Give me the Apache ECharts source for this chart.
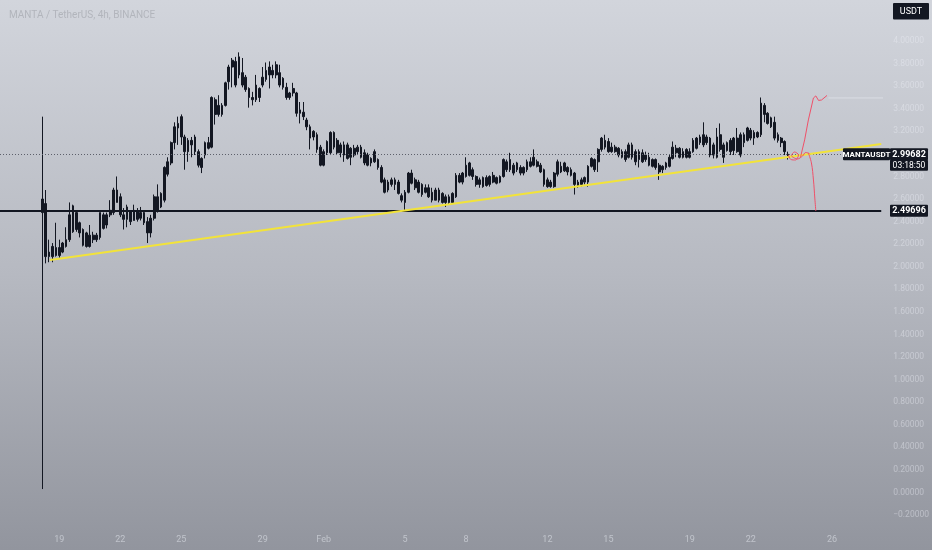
<!DOCTYPE html>
<html>
<head>
<meta charset="utf-8">
<script src="https://cdn.jsdelivr.net/npm/echarts@6/dist/echarts.min.js"></script>
<style>
  html, body { margin: 0; padding: 0; }
  #chart {
    width: 932px;
    height: 550px;
    background: linear-gradient(to bottom, #d2d5dc 0%, #b6b9c1 50%, #92959e 100%);
  }
</style>
</head>
<body>
<div id="chart"></div>
<script>
// MANTA / USDT 4h candles, [open, close, low, high], first candle = Jan 18 04:00
const candles = [
  [2.48, 2.60, 0.03, 3.33], [2.56, 2.09, 2.03, 2.68], [2.09, 2.13, 2.04, 2.24], [2.09, 2.18, 2.04, 2.21],
  [2.17, 2.10, 2.09, 2.39], [2.10, 2.17, 2.08, 2.24], [2.13, 2.21, 2.12, 2.22], [2.18, 2.24, 2.17, 2.35],
  [2.24, 2.46, 2.22, 2.57], [2.31, 2.54, 2.30, 2.55], [2.48, 2.33, 2.31, 2.49], [2.39, 2.30, 2.26, 2.40],
  [2.33, 2.19, 2.18, 2.34], [2.30, 2.18, 2.17, 2.31], [2.18, 2.28, 2.17, 2.37], [2.28, 2.24, 2.21, 2.31],
  [2.24, 2.28, 2.22, 2.30], [2.26, 2.48, 2.24, 2.48], [2.46, 2.34, 2.33, 2.48], [2.37, 2.46, 2.34, 2.48],
  [2.46, 2.50, 2.44, 2.59], [2.48, 2.68, 2.46, 2.70], [2.68, 2.57, 2.57, 2.80], [2.62, 2.46, 2.44, 2.65],
  [2.46, 2.42, 2.33, 2.52], [2.42, 2.53, 2.35, 2.55], [2.49, 2.40, 2.37, 2.50], [2.41, 2.50, 2.41, 2.55],
  [2.49, 2.42, 2.40, 2.52], [2.43, 2.48, 2.41, 2.53], [2.48, 2.39, 2.37, 2.50], [2.40, 2.30, 2.21, 2.44],
  [2.30, 2.43, 2.26, 2.46], [2.43, 2.62, 2.41, 2.64], [2.62, 2.49, 2.48, 2.73], [2.53, 2.65, 2.52, 2.66],
  [2.59, 2.88, 2.57, 2.89], [2.82, 2.93, 2.80, 2.97], [2.92, 3.10, 2.90, 3.11], [3.10, 3.24, 3.04, 3.28],
  [3.23, 3.27, 3.08, 3.33], [3.33, 3.15, 3.08, 3.35], [3.15, 3.02, 2.86, 3.17], [3.02, 3.12, 2.93, 3.14],
  [3.12, 3.08, 2.97, 3.15], [3.15, 3.02, 2.99, 3.17], [3.02, 2.90, 2.88, 3.04], [2.88, 2.96, 2.83, 2.97],
  [2.99, 3.10, 2.96, 3.11], [3.10, 3.05, 3.04, 3.15], [3.06, 3.50, 3.05, 3.51], [3.48, 3.35, 3.26, 3.50],
  [3.35, 3.43, 3.33, 3.52], [3.43, 3.35, 3.33, 3.45], [3.43, 3.63, 3.42, 3.64], [3.64, 3.77, 3.57, 3.79],
  [3.77, 3.83, 3.59, 3.85], [3.82, 3.61, 3.59, 3.86], [3.70, 3.86, 3.67, 3.90], [3.72, 3.61, 3.59, 3.85],
  [3.68, 3.57, 3.55, 3.70], [3.58, 3.50, 3.41, 3.59], [3.50, 3.48, 3.43, 3.55], [3.48, 3.61, 3.46, 3.70],
  [3.58, 3.50, 3.46, 3.59], [3.61, 3.68, 3.59, 3.77], [3.66, 3.74, 3.64, 3.81], [3.77, 3.70, 3.58, 3.82],
  [3.70, 3.74, 3.67, 3.79], [3.70, 3.79, 3.67, 3.82], [3.72, 3.61, 3.59, 3.79], [3.67, 3.59, 3.57, 3.68],
  [3.59, 3.50, 3.48, 3.63], [3.50, 3.54, 3.48, 3.55], [3.54, 3.58, 3.51, 3.63], [3.54, 3.36, 3.33, 3.55],
  [3.36, 3.39, 3.27, 3.46], [3.37, 3.33, 3.30, 3.46], [3.30, 3.24, 3.21, 3.32], [3.24, 3.14, 3.04, 3.26],
  [3.15, 3.20, 3.12, 3.21], [3.17, 3.04, 3.01, 3.19], [3.06, 2.90, 2.89, 3.08], [2.90, 3.02, 2.89, 3.04],
  [3.01, 3.11, 2.99, 3.12], [3.01, 3.19, 2.99, 3.20], [3.19, 3.06, 3.04, 3.20], [3.12, 3.01, 2.99, 3.14],
  [3.01, 3.08, 2.97, 3.10], [3.08, 2.99, 2.93, 3.11], [2.96, 3.08, 2.95, 3.10], [3.05, 2.97, 2.90, 3.06],
  [2.99, 3.05, 2.97, 3.08], [3.06, 3.02, 2.99, 3.08], [3.06, 2.97, 2.96, 3.08], [3.01, 2.92, 2.90, 3.04],
  [2.90, 2.99, 2.89, 3.01], [2.96, 2.92, 2.89, 2.97], [2.93, 3.02, 2.92, 3.04], [2.95, 2.88, 2.86, 2.96],
  [2.88, 2.75, 2.74, 2.90], [2.77, 2.66, 2.65, 2.79], [2.68, 2.75, 2.66, 2.77], [2.73, 2.77, 2.71, 2.79],
  [2.77, 2.73, 2.68, 2.79], [2.75, 2.65, 2.64, 2.77], [2.63, 2.59, 2.57, 2.65], [2.57, 2.66, 2.49, 2.68],
  [2.66, 2.83, 2.65, 2.84], [2.83, 2.74, 2.73, 2.86], [2.77, 2.70, 2.68, 2.79], [2.75, 2.66, 2.65, 2.77],
  [2.73, 2.64, 2.62, 2.74], [2.66, 2.70, 2.65, 2.73], [2.70, 2.62, 2.61, 2.73], [2.66, 2.59, 2.57, 2.70],
  [2.59, 2.68, 2.59, 2.70], [2.68, 2.59, 2.57, 2.70], [2.65, 2.57, 2.56, 2.66], [2.57, 2.62, 2.53, 2.64],
  [2.62, 2.57, 2.55, 2.64], [2.57, 2.65, 2.57, 2.66], [2.62, 2.81, 2.61, 2.83], [2.81, 2.75, 2.74, 2.83],
  [2.75, 2.83, 2.73, 2.84], [2.80, 2.90, 2.79, 2.97], [2.92, 2.81, 2.80, 2.93], [2.86, 2.80, 2.77, 2.88],
  [2.80, 2.73, 2.71, 2.81], [2.73, 2.77, 2.70, 2.79], [2.79, 2.71, 2.70, 2.80], [2.72, 2.79, 2.71, 2.81],
  [2.80, 2.73, 2.71, 2.81], [2.75, 2.81, 2.74, 2.84], [2.79, 2.74, 2.73, 2.80], [2.75, 2.80, 2.74, 2.81],
  [2.80, 2.95, 2.79, 2.96], [2.93, 2.86, 2.84, 2.95], [2.86, 2.95, 2.84, 3.01], [2.90, 2.83, 2.81, 2.92],
  [2.86, 2.92, 2.84, 2.93], [2.88, 2.83, 2.81, 2.90], [2.83, 2.88, 2.81, 2.89], [2.86, 2.93, 2.84, 2.95],
  [2.93, 2.89, 2.88, 2.97], [2.90, 2.97, 2.89, 3.04], [2.93, 2.89, 2.88, 2.95], [2.90, 2.84, 2.83, 2.92],
  [2.86, 2.73, 2.71, 2.87], [2.77, 2.71, 2.70, 2.79], [2.71, 2.75, 2.70, 2.77], [2.71, 2.83, 2.70, 2.84],
  [2.82, 2.93, 2.80, 2.95], [2.89, 2.84, 2.83, 2.93], [2.85, 2.92, 2.84, 2.93], [2.88, 2.84, 2.81, 2.89],
  [2.86, 2.81, 2.80, 2.88], [2.83, 2.73, 2.64, 2.84], [2.71, 2.75, 2.70, 2.77], [2.73, 2.77, 2.71, 2.79],
  [2.75, 2.79, 2.73, 2.80], [2.75, 2.89, 2.71, 2.90], [2.89, 2.96, 2.88, 2.97], [2.95, 2.86, 2.84, 2.96],
  [2.93, 3.04, 2.84, 3.05], [3.04, 3.14, 3.02, 3.15], [3.12, 3.06, 3.04, 3.17], [3.11, 3.02, 3.01, 3.14],
  [3.02, 3.06, 3.01, 3.10], [3.06, 3.02, 3.01, 3.08], [3.05, 2.99, 2.97, 3.06], [3.02, 2.97, 2.96, 3.04],
  [3.02, 2.95, 2.93, 3.04], [2.97, 3.08, 2.96, 3.10], [3.08, 2.97, 2.95, 3.10], [3.02, 2.93, 2.90, 3.04],
  [2.95, 3.02, 2.88, 3.04], [3.01, 2.93, 2.92, 3.04], [2.95, 2.99, 2.93, 3.02], [2.97, 2.90, 2.89, 3.01],
  [2.95, 2.89, 2.88, 2.96], [2.95, 2.88, 2.86, 2.96], [2.90, 2.84, 2.77, 2.92], [2.86, 2.89, 2.83, 2.90],
  [2.88, 2.92, 2.86, 2.93], [2.89, 2.97, 2.88, 2.99], [2.96, 3.06, 2.95, 3.11], [3.05, 3.01, 2.97, 3.08],
  [2.97, 3.05, 2.96, 3.06], [3.02, 2.97, 2.96, 3.05], [2.97, 3.04, 2.96, 3.05], [3.02, 2.97, 2.96, 3.05],
  [3.02, 3.12, 3.01, 3.14], [3.14, 3.05, 3.04, 3.15], [3.10, 3.15, 3.08, 3.17], [3.17, 3.08, 3.06, 3.28],
  [3.10, 3.15, 3.08, 3.17], [3.14, 2.99, 2.97, 3.15], [2.99, 3.08, 2.96, 3.10], [2.97, 3.15, 2.96, 3.23],
  [3.17, 3.04, 3.02, 3.27], [3.08, 2.97, 2.92, 3.10], [3.03, 3.10, 3.02, 3.11], [3.12, 3.02, 2.99, 3.14],
  [3.03, 3.14, 2.99, 3.15], [3.14, 3.02, 3.01, 3.23], [2.99, 3.17, 2.97, 3.19], [3.17, 3.10, 3.06, 3.19],
  [3.12, 3.23, 3.11, 3.24], [3.21, 3.14, 3.12, 3.23], [3.14, 3.19, 3.08, 3.21], [3.19, 3.15, 3.14, 3.20],
  [3.17, 3.45, 3.15, 3.50], [3.43, 3.35, 3.28, 3.45], [3.36, 3.27, 3.26, 3.37], [3.32, 3.24, 3.23, 3.33],
  [3.28, 3.14, 3.12, 3.33], [3.12, 3.17, 3.10, 3.19], [3.14, 3.10, 3.06, 3.15], [3.11, 3.02, 2.99, 3.12],
  [2.97, 2.99682, 2.95, 3.02]
];

// time slots (4h) on the axis, including empty space on the right
const startTime = Date.UTC(2024, 0, 16, 4);
const slotCount = 260;
const firstCandleSlot = 12;

// date ticks shown on the time axis
const tickDates = ['2024-01-19', '2024-01-22', '2024-01-25', '2024-01-29', '2024-02-01', '2024-02-05',
                   '2024-02-08', '2024-02-12', '2024-02-15', '2024-02-19', '2024-02-22', '2024-02-26'];
const tickLabels = ['19', '22', '25', '29', 'Feb', '5', '8', '12', '15', '19', '22', '26'];

// levels
const supportLevel = 2.49696;
const lastPrice = 2.99682;
const countdown = '03:18:50';

// drawings, [slot, price]
const trendLine = [[14.2, 2.06], [259.5, 3.088]];
const redSquiggle = [[232.1, 2.991], [232.8, 2.951], [234.2, 2.946], [235.1, 2.991], [233.9, 3.017],
                     [233.0, 2.986], [234.8, 2.955], [236.3, 2.982], [237.2, 3.013], [238.3, 3.004]];
const redUp = [[235.7, 2.973], [236.9, 3.124], [238.0, 3.301], [239.5, 3.496], [240.2, 3.514],
               [241.0, 3.474], [241.9, 3.478], [243.5, 3.518]];
const redDown = [[238.0, 3.008], [238.9, 2.920], [239.5, 2.769], [239.9, 2.609], [240.2, 2.494]];
const greyRay = [[243.9, 3.496], [262.5, 3.496]];

const pad = n => String(n).padStart(2, '0')
const categories = []
for (let i = 0; i < slotCount; i++) {
  const d = new Date(startTime + i * 4 * 3600 * 1000)
  categories.push(d.getUTCFullYear() + '-' + pad(d.getUTCMonth() + 1) + '-' + pad(d.getUTCDate()) + ' ' + pad(d.getUTCHours()) + ':00')
}
const tickMap = new Map(tickDates.map((d, i) => [d + ' 00:00', tickLabels[i]]))

const font = 'Roboto, "Noto Sans", sans-serif'
const labelColor = 'rgba(238,241,248,0.42)'
const ink = '#131722'

const chart = echarts.init(document.getElementById('chart'), null, { renderer: 'canvas' })

const option = {
  animation: false,
  backgroundColor: 'transparent',
  title: {
    text: 'MANTA / TetherUS, 4h, BINANCE',
    left: 4,
    top: 5,
    textStyle: { fontSize: 10, fontWeight: 'normal', color: '#b2b5bc', fontFamily: font }
  },
  grid: { left: 0, right: 47, top: 18.5, bottom: 35 },
  xAxis: [{
    type: 'category',
    data: categories,
    boundaryGap: true,
    axisLine: { show: false },
    axisTick: { show: false },
    splitLine: { show: false },
    axisLabel: {
      interval: (idx, val) => tickMap.has(val),
      formatter: val => tickMap.get(val) || '',
      margin: 20,
      fontSize: 9,
      color: 'rgba(238,241,248,0.5)',
      fontFamily: font
    }
  }, {
    type: 'value',
    min: -0.5,
    max: slotCount - 0.5,
    show: false
  }],
  yAxis: {
    type: 'value',
    position: 'right',
    min: -0.2,
    max: 4.2,
    interval: 0.2,
    axisLine: { show: false },
    axisTick: { show: false },
    splitLine: { show: false },
    axisLabel: {
      showMaxLabel: false,
      margin: 12,
      fontSize: 8.5,
      color: labelColor,
      fontFamily: font,
      formatter: v => (v < -1e-9 ? '\u2212' + Math.abs(v).toFixed(5) : Math.abs(v).toFixed(5))
    }
  },
  series: [{
    type: 'candlestick',
    xAxisIndex: 0,
    data: candles.map((c, i) => [firstCandleSlot + i, c[0], c[1], c[2], c[3]]),
    encode: { x: 0, y: [1, 2, 3, 4] },
    barWidth: 2.2,
    itemStyle: { color: ink, color0: ink, borderColor: ink, borderColor0: ink, borderWidth: 1 },
    z: 3,
    markLine: {
      silent: true,
      symbol: ['none', 'none'],
      label: { show: false },
      data: [
        { yAxis: supportLevel, lineStyle: { color: ink, width: 2, type: 'solid' } },
        { yAxis: lastPrice, lineStyle: { color: '#5d606b', width: 1, type: [1, 2] } }
      ]
    }
  }, {
    type: 'line',
    xAxisIndex: 1,
    data: trendLine,
    symbol: 'none',
    lineStyle: { color: '#f2e33a', width: 2 },
    z: 5
  }, {
    type: 'line',
    xAxisIndex: 1,
    data: redSquiggle,
    symbol: 'none',
    smooth: 0.3,
    lineStyle: { color: '#ef5068', width: 1 },
    z: 6
  }, {
    type: 'line',
    xAxisIndex: 1,
    data: redUp,
    symbol: 'none',
    lineStyle: { color: '#ef5068', width: 1 },
    z: 6
  }, {
    type: 'line',
    xAxisIndex: 1,
    data: redDown,
    symbol: 'none',
    smooth: 0.4,
    lineStyle: { color: '#ef5068', width: 1 },
    z: 6
  }, {
    type: 'line',
    xAxisIndex: 1,
    data: greyRay,
    symbol: 'none',
    clip: false,
    lineStyle: { color: 'rgba(226,229,236,0.7)', width: 1 },
    z: 2
  }]
}

chart.setOption(option)

// price tags on the right, placed at their levels
const yOf = v => chart.convertToPixel({ yAxisIndex: 0 }, v)
const ySup = yOf(supportLevel)
const yLast = yOf(lastPrice)

function tag(x, y, w, h, text, size, weight) {
  return {
    type: 'group',
    z: 100,
    children: [
      { type: 'rect', z: 100, shape: { x: x, y: y, width: w, height: h, r: 1 }, style: { fill: ink } },
      {
        type: 'text',
        z: 101,
        style: {
          text: text, x: x + w / 2, y: y + h / 2 + 0.5,
          fill: '#ffffff', fontSize: size, fontWeight: weight, fontFamily: font,
          align: 'center', verticalAlign: 'middle'
        }
      }
    ]
  }
}

chart.setOption({
  graphic: [
    tag(893, 3, 36, 16.5, 'USDT', 9, 'normal'),
    tag(843, yLast - 6, 47, 12, 'MANTAUSDT', 8, 'bold'),
    tag(890, yLast - 6, 38, 12, lastPrice.toFixed(5), 9, 'bold'),
    tag(890, yLast + 5.5, 38, 11, countdown, 8.5, 'normal'),
    tag(890, ySup - 6, 38, 12, supportLevel.toFixed(5), 9, 'bold')
  ]
})
</script>
</body>
</html>
